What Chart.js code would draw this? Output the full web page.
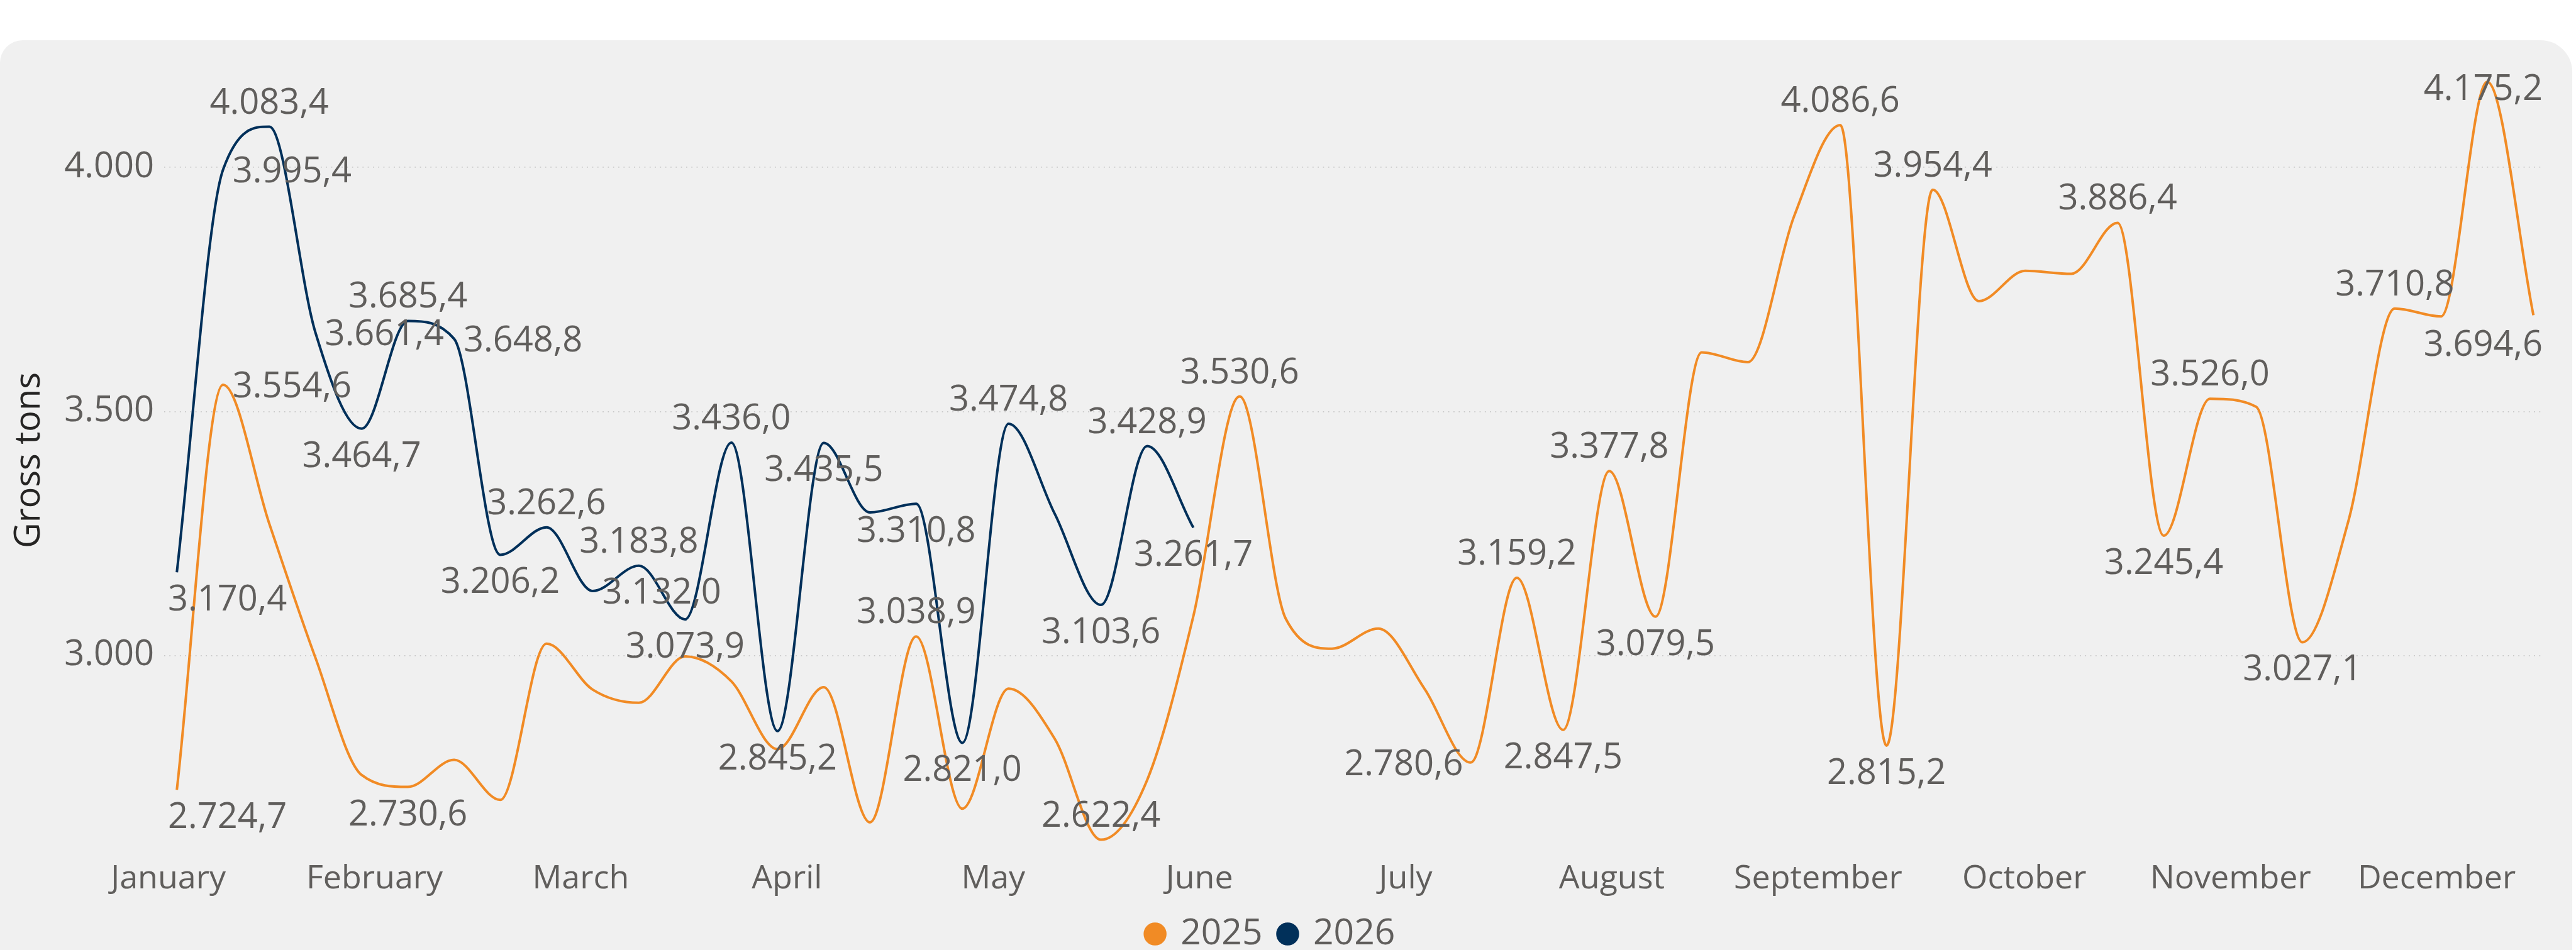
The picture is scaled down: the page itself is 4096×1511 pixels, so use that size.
<!DOCTYPE html>
<html lang="en">
<head>
<meta charset="UTF-8">
<title>Gross tons per week</title>
<script src="https://cdn.jsdelivr.net/npm/chart.js@4"></script>
<style>
  html, body { margin: 0; padding: 0; background: #ffffff; overflow: hidden; }
  #panel {
    position: absolute; left: 0; top: 64px; width: 4090px; height: 1460px;
    background: #f0f0f0; border-radius: 36px 50px 0 0;
  }
  #wrap { position: absolute; left: 0; top: 0; width: 4096px; height: 1524px; }
</style>
</head>
<body>
<div id="panel"></div>
<div id="wrap"><canvas id="chart" width="4096" height="1524"></canvas></div>
<script>
// month names on the x axis
const monthLabels = ['January', 'February', 'March', 'April', 'May', 'June',
  'July', 'August', 'September', 'October', 'November', 'December'];

// week numbers (x) and gross tons per week
const weeks2025 = [1, 2, 3, 4, 5, 6, 7, 8, 9, 10, 11, 12, 13, 14, 15, 16, 17, 18, 19, 20,
  21, 22, 23, 24, 25, 26, 27, 28, 29, 30, 31, 32, 33, 34, 35, 36, 37, 38, 39, 40,
  41, 42, 43, 44, 45, 46, 47, 48, 49, 50, 51, 52];
const tons2025 = [2724.7, 3554.6, 3270, 2995, 2755, 2730.6, 2786, 2704, 3024, 2930,
  2903, 2998, 2947, 2808, 2935, 2658, 3038.9, 2686, 2932, 2829,
  2622.4, 2745, 3081, 3530.6, 3075, 3014, 3055, 2932, 2780.6, 3159.2,
  2847.5, 3377.8, 3079.5, 3621, 3601, 3900, 4086.6, 2815.2, 3954.4, 3726,
  3788, 3782, 3886.4, 3245.4, 3526.0, 3509.5, 3027.1, 3277, 3710.8, 3694.6,
  4175.2, 3697];

const weeks2026 = [1, 2, 3, 4, 5, 6, 7, 8, 9, 10, 11, 12, 13, 14, 15, 16, 17, 18, 19, 20,
  21, 22, 23];
const tons2026 = [3170.4, 3995.4, 4083.4, 3661.4, 3464.7, 3685.4, 3648.8, 3206.2, 3262.6, 3132.0,
  3183.8, 3073.9, 3436.0, 2845.2, 3435.5, 3293, 3310.8, 2821.0, 3474.8, 3290,
  3103.6, 3428.9, 3261.7];

const yTicks = [3000, 3500, 4000];

// which points carry a value label, and on which side of the point
const labelAt2025 = {0: 'below', 1: 'right', 5: 'below', 16: 'above', 20: 'above', 23: 'above',
  28: 'left', 29: 'above', 30: 'below', 31: 'above', 32: 'below', 36: 'above', 37: 'below',
  38: 'above', 42: 'above', 43: 'below', 44: 'above', 46: 'below', 48: 'above',
  49: 'belowright', 50: 'above'};
const labelAt2026 = {0: 'below', 1: 'right', 2: 'above', 3: 'right', 4: 'below', 5: 'above',
  6: 'right', 7: 'below', 8: 'above', 9: 'right', 10: 'above', 11: 'below', 12: 'above',
  13: 'below', 14: 'below', 16: 'below', 17: 'below', 18: 'above', 20: 'below',
  21: 'above', 22: 'below'};

const FONT = '"Segoe UI", "Open Sans", sans-serif';
const GREY = '#605E5C';

// month label placement along the week axis
const firstMonthAt = 0.815;
const monthStep = 4.463;

// 4.083,4 style numbers
function fmt(v, dec) {
  const parts = v.toFixed(dec).split('.');
  const whole = parts[0].replace(/\B(?=(\d{3})+(?!\d))/g, '.');
  return parts[1] ? whole + ',' + parts[1] : whole;
}

const valueLabels = {
  id: 'valueLabels',
  afterDatasetsDraw(chart) {
    const ctx = chart.ctx;
    const area = chart.chartArea;
    const size = 56;
    const capH = size * 0.714;
    ctx.save();
    ctx.font = size + 'px ' + FONT;
    ctx.fillStyle = GREY;
    ctx.textAlign = 'left';
    ctx.textBaseline = 'alphabetic';
    chart.data.datasets.forEach((ds, di) => {
      const meta = chart.getDatasetMeta(di);
      Object.keys(ds.labelAt).forEach(k => {
        const i = Number(k);
        const pt = meta.data[i];
        const text = fmt(ds.data[i].y, 1);
        const w = ctx.measureText(text).width;
        let cx = pt.x, cy = pt.y;
        switch (ds.labelAt[k]) {
          case 'above': cy = pt.y - 41; break;
          case 'below': cy = pt.y + 41; break;
          case 'right': cx = pt.x + 15 + w / 2; break;
          case 'left': cx = pt.x - 12 - w / 2; break;
          case 'belowright': cx = pt.x + 15 + w / 2; cy = pt.y + 43; break;
        }
        cx = Math.min(Math.max(cx, area.left + 6 + w / 2), area.right - w / 2);
        cy = Math.max(cy, area.top + 28);
        ctx.fillText(text, cx - w / 2, cy + capH / 2);
      });
    });
    ctx.restore();
  }
};

function series(xs, ys) {
  return xs.map((x, i) => ({x: x, y: ys[i]}));
}

Chart.defaults.font.family = FONT;
Chart.defaults.color = GREY;

new Chart(document.getElementById('chart'), {
  type: 'line',
  data: {
    datasets: [{
      label: '2025',
      data: series(weeks2025, tons2025),
      labelAt: labelAt2025,
      borderColor: '#F18B25',
      backgroundColor: '#F18B25',
      borderWidth: 4,
      pointRadius: 0,
      cubicInterpolationMode: 'monotone'
    }, {
      label: '2026',
      data: series(weeks2026, tons2026),
      labelAt: labelAt2026,
      borderColor: '#01305A',
      backgroundColor: '#01305A',
      borderWidth: 4,
      pointRadius: 0,
      cubicInterpolationMode: 'monotone'
    }]
  },
  options: {
    responsive: false,
    animation: false,
    layout: { padding: { top: 111, left: 0, right: 53, bottom: 0 } },
    plugins: {
      tooltip: { enabled: false },
      legend: {
        position: 'bottom',
        labels: {
          usePointStyle: true,
          pointStyle: 'circle',
          boxWidth: 24,
          boxHeight: 23,
          padding: 28,
          color: GREY,
          font: { size: 57 }
        }
      }
    },
    scales: {
      x: {
        type: 'linear',
        min: 0.725,
        max: 52.2,
        grid: { display: false },
        border: { display: false },
        ticks: {
          padding: 6,
          color: GREY,
          font: { size: 52 },
          maxRotation: 0,
          autoSkip: false,
          callback: (v, i) => monthLabels[i]
        },
        afterBuildTicks: s => {
          s.ticks = monthLabels.map((m, i) => ({ value: firstMonthAt + i * monthStep }));
        },
        afterFit: s => { s.height = 76; }
      },
      y: {
        min: 2600,
        max: 4200,
        afterBuildTicks: s => { s.ticks = yTicks.map(v => ({ value: v })); },
        afterFit: s => { s.width = 261; },
        grid: {
          color: '#c8c8c8',
          lineWidth: 1.7,
          drawTicks: false
        },
        border: { display: false, dash: [1.7, 6.6] },
        ticks: {
          padding: 16,
          color: GREY,
          font: { size: 56 },
          callback: v => fmt(v, 0)
        },
        title: {
          display: true,
          text: 'Gross tons',
          color: '#252423',
          font: { size: 56, lineHeight: 1.2 },
          padding: { top: 13, bottom: 0 }
        }
      }
    }
  },
  plugins: [valueLabels]
});
</script>
</body>
</html>
